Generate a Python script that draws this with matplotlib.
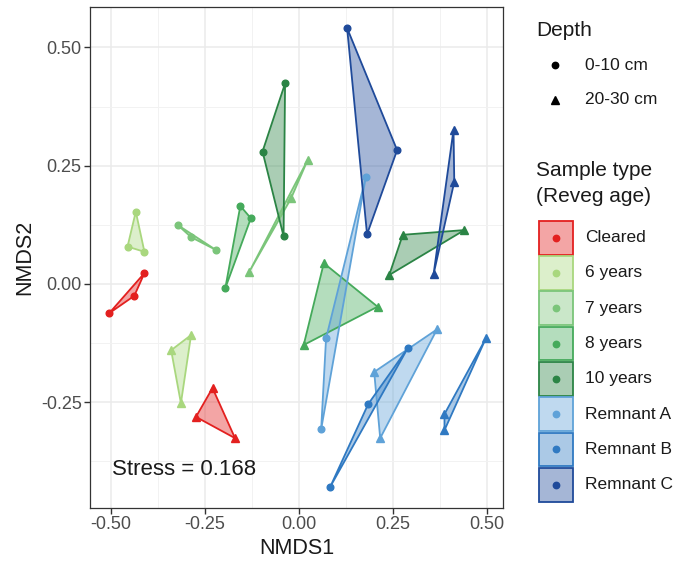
import matplotlib
matplotlib.use("Agg")
import matplotlib.pyplot as plt
from matplotlib.patches import Polygon, Rectangle
from matplotlib.ticker import MultipleLocator

plt.rcParams['font.family'] = ['Liberation Sans', 'DejaVu Sans']

# ---------------- data ----------------
sample_types = ["Cleared", "6 years", "7 years", "8 years", "10 years",
                "Remnant A", "Remnant B", "Remnant C"]
depth_labels = ["0-10 cm", "20-30 cm"]

# NMDS scores, three replicates per sample type, 0-10 cm (circles)
nmds1_0_10 = [[-0.505, -0.438, -0.411],
              [-0.434, -0.456, -0.411],
              [-0.323, -0.287, -0.221],
              [-0.156, -0.128, -0.196],
              [-0.037, -0.097, -0.041],
              [0.178, 0.072, 0.059],
              [0.289, 0.184, 0.083],
              [0.128, 0.261, 0.181]]
nmds2_0_10 = [[-0.062, -0.025, 0.023],
              [0.153, 0.079, 0.068],
              [0.125, 0.099, 0.072],
              [0.165, 0.139, -0.009],
              [0.424, 0.280, 0.101],
              [0.227, -0.115, -0.307],
              [-0.136, -0.254, -0.429],
              [0.541, 0.283, 0.105]]
# 20-30 cm (triangles)
nmds1_20_30 = [[-0.230, -0.274, -0.170],
               [-0.287, -0.340, -0.314],
               [0.023, -0.021, -0.132],
               [0.066, 0.209, 0.0125],
               [0.276, 0.440, 0.240],
               [0.200, 0.367, 0.216],
               [0.497, 0.387, 0.387],
               [0.411, 0.413, 0.358]]
nmds2_20_30 = [[-0.220, -0.281, -0.326],
               [-0.108, -0.140, -0.252],
               [0.262, 0.181, 0.026],
               [0.044, -0.048, -0.129],
               [0.104, 0.114, 0.019],
               [-0.186, -0.096, -0.326],
               [-0.115, -0.275, -0.309],
               [0.326, 0.216, 0.021]]

x_ticks = [-0.50, -0.25, 0.00, 0.25, 0.50]
y_ticks = [-0.25, 0.00, 0.25, 0.50]
stress_text = "Stress = 0.168"

# ---------------- style ----------------
colors = ["#E3201F", "#A9D77E", "#7BC57A", "#45AA5B", "#2B8445",
          "#5FA2D8", "#2F79C2", "#1F4A9A"]
poly_alpha = 0.4

W, H = 677, 567
fig = plt.figure(figsize=(W / 100, H / 100), dpi=100)
L, R, T, B = 90, 503, 7, 508
ax = fig.add_axes([L / W, 1 - B / H, (R - L) / W, (B - T) / H])

ax.set_xlim(-0.5558, 0.5426)
ax.set_ylim(-0.4736, 0.5856)

ax.xaxis.set_minor_locator(MultipleLocator(0.125))
ax.yaxis.set_minor_locator(MultipleLocator(0.125))
ax.set_xticks(x_ticks)
ax.set_yticks(y_ticks)
ax.set_xticklabels([f"{v:.2f}" for v in x_ticks])
ax.set_yticklabels([f"{v:.2f}" for v in y_ticks])
ax.grid(which="major", color="#EBEBEB", lw=1.1, zorder=0)
ax.grid(which="minor", color="#F2F2F2", lw=0.7, zorder=0)
ax.set_axisbelow(True)
ax.tick_params(which="major", length=4, width=1, color="#333333",
               labelcolor="#4D4D4D", labelsize=13, pad=2)
ax.tick_params(which="minor", length=0)
for s in ax.spines.values():
    s.set_color("#333333")
    s.set_linewidth(0.9)

ax.set_xlabel("NMDS1", fontsize=15.5, color="#1a1a1a", labelpad=3)
ax.set_ylabel("NMDS2", fontsize=15.5, color="#1a1a1a", labelpad=4)

# polygons
for i, c in enumerate(colors):
    for xs, ys in ((nmds1_0_10[i], nmds2_0_10[i]), (nmds1_20_30[i], nmds2_20_30[i])):
        pts = list(zip(xs, ys))
        ax.add_patch(Polygon(pts, closed=True, facecolor=c, alpha=poly_alpha,
                             edgecolor="none", zorder=2))
        ax.add_patch(Polygon(pts, closed=True, facecolor="none", edgecolor=c,
                             lw=1.3, zorder=3))
# points
for i, c in enumerate(colors):
    ax.plot(nmds1_0_10[i], nmds2_0_10[i], "o", ms=4.8, color=c, zorder=4, lw=0)
    ax.plot(nmds1_20_30[i], nmds2_20_30[i], "^", ms=5.7, color=c, zorder=4, lw=0)

ax.text(-0.498, -0.393, stress_text, fontsize=16, color="#1a1a1a",
        ha="left", va="center", zorder=5)

# ---------------- legends (figure pixel coords) ----------------
lg = fig.add_axes([0, 0, 1, 1])
lg.set_xlim(0, W)
lg.set_ylim(H, 0)
lg.axis("off")

lg.text(536, 31, "Depth", fontsize=15, color="#1a1a1a", ha="left", va="center")
lg.plot([555], [65], "o", ms=4.6, color="black")
lg.plot([555], [100], "^", ms=5.5, color="black")
lg.text(585, 65, depth_labels[0], fontsize=12.5, color="#1a1a1a", va="center")
lg.text(585, 100, depth_labels[1], fontsize=12.5, color="#1a1a1a", va="center")

lg.text(536, 170, "Sample type", fontsize=15, color="#1a1a1a", ha="left", va="center")
lg.text(536, 196, "(Reveg age)", fontsize=15, color="#1a1a1a", ha="left", va="center")
key_top, key_h = 220, 35.3
for i, (name, c) in enumerate(zip(sample_types, colors)):
    y0 = key_top + i * key_h
    lg.add_patch(Rectangle((538.5, y0 + 0.8), 34, key_h - 1.6, facecolor=c,
                           alpha=poly_alpha, edgecolor="none"))
    lg.add_patch(Rectangle((538.5, y0 + 0.8), 34, key_h - 1.6, facecolor="none",
                           edgecolor=c, lw=1.3))
    lg.plot([555.5], [y0 + key_h / 2], "o", ms=4.6, color=c)
    lg.text(585, y0 + key_h / 2, name, fontsize=12.5, color="#1a1a1a", va="center")

fig.savefig("out.png", dpi=100)
